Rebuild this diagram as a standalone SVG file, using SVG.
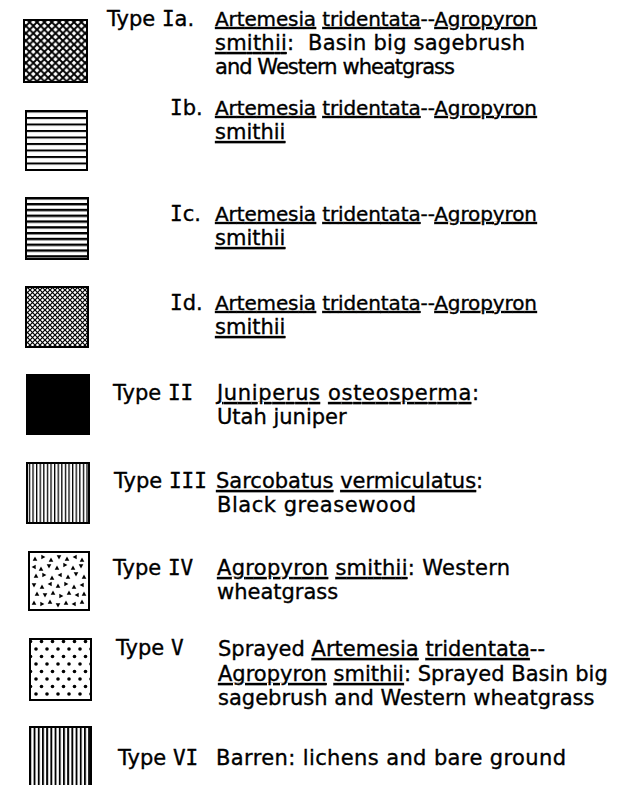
<svg xmlns="http://www.w3.org/2000/svg" xmlns:xlink="http://www.w3.org/1999/xlink" width="622" height="785" viewBox="0 0 622 785">
<defs>
<style>
text{font-family:"DejaVu Sans","Liberation Sans",sans-serif;font-size:21px;fill:#000;stroke:#000;stroke-width:0.35px}
text.sm{font-size:20px}
.rn{font-family:"DejaVu Sans Mono","Liberation Mono",monospace}
.u{text-decoration:underline;text-decoration-thickness:1.6px}
.pre{white-space:pre}
.box{stroke:#000;stroke-width:2}
</style>
<pattern id="xh" width="7.4" height="7.4" patternUnits="userSpaceOnUse"><rect width="7.4" height="7.4" fill="#fff"/><path d="M-1,-1L8.4,8.4M-1,8.4L8.4,-1" stroke="#000" stroke-width="1.9"/></pattern>
<pattern id="xhf" width="5" height="5" patternUnits="userSpaceOnUse"><rect width="5" height="5" fill="#fff"/><path d="M-1,-1L6,6M-1,6L6,-1" stroke="#000" stroke-width="1.2"/></pattern>
<pattern id="hz1" width="10" height="6.5" patternUnits="userSpaceOnUse"><rect width="10" height="6.5" fill="#fff"/><rect y="0" width="10" height="2" fill="#000"/></pattern>
<pattern id="hz2" width="10" height="5.8" patternUnits="userSpaceOnUse"><rect width="10" height="5.8" fill="#fff"/><rect y="0" width="10" height="2.4" fill="#000"/></pattern>
<pattern id="vt1" width="3.6" height="10" patternUnits="userSpaceOnUse"><rect width="3.6" height="10" fill="#fff"/><rect x="0" width="1.3" height="10" fill="#000"/></pattern>
<pattern id="vt2" width="4.2" height="10" patternUnits="userSpaceOnUse"><rect width="4.2" height="10" fill="#fff"/><rect x="0" width="1.9" height="10" fill="#000"/></pattern>
<pattern id="dots" width="11" height="15" patternUnits="userSpaceOnUse"><rect width="11" height="15" fill="#fff"/><circle cx="3" cy="4" r="1.8" fill="#000"/><circle cx="8.5" cy="11.5" r="1.8" fill="#000"/></pattern>
<path id="tri" d="M0,-2.4L2.3,1.7L-2.3,1.7Z" fill="#000"/>
</defs>
<rect width="622" height="785" fill="#fff"/>

<g id="type-Ia">
<rect class="box" x="24" y="20" width="63" height="62" fill="url(#xh)"/>
<text x="107" y="26">Type <tspan class="rn">I</tspan>a.</text>
<text class="sm" x="215" y="26" textLength="322" lengthAdjust="spacing"><tspan class="u">Artemesia</tspan> <tspan class="u">tridentata</tspan>--<tspan class="u">Agropyron</tspan></text>
<text class="pre" x="215" y="50" textLength="310" lengthAdjust="spacing"><tspan class="u">smithii</tspan>:  Basin big sagebrush</text>
<text x="215" y="74" textLength="240" lengthAdjust="spacing">and Western wheatgrass</text>
</g>

<g id="type-Ib">
<rect class="box" x="26" y="111" width="61" height="59" fill="url(#hz1)"/>
<text x="170" y="115"><tspan class="rn">I</tspan>b.</text>
<text class="sm" x="215" y="115" textLength="322" lengthAdjust="spacing"><tspan class="u">Artemesia</tspan> <tspan class="u">tridentata</tspan>--<tspan class="u">Agropyron</tspan></text>
<text x="215" y="139"><tspan class="u">smithii</tspan></text>
</g>

<g id="type-Ic">
<rect class="box" x="26" y="198" width="62" height="61" fill="url(#hz2)"/>
<text x="170" y="221"><tspan class="rn">I</tspan>c.</text>
<text class="sm" x="215" y="221" textLength="322" lengthAdjust="spacing"><tspan class="u">Artemesia</tspan> <tspan class="u">tridentata</tspan>--<tspan class="u">Agropyron</tspan></text>
<text x="215" y="245"><tspan class="u">smithii</tspan></text>
</g>

<g id="type-Id">
<rect class="box" x="26" y="287" width="62" height="60" fill="url(#xhf)"/>
<text x="170" y="310"><tspan class="rn">I</tspan>d.</text>
<text class="sm" x="215" y="310" textLength="322" lengthAdjust="spacing"><tspan class="u">Artemesia</tspan> <tspan class="u">tridentata</tspan>--<tspan class="u">Agropyron</tspan></text>
<text x="215" y="334"><tspan class="u">smithii</tspan></text>
</g>

<g id="type-II">
<rect class="box" x="27" y="375" width="62" height="59" fill="#000"/>
<text x="113" y="400">Type <tspan class="rn">II</tspan></text>
<text x="217" y="400" textLength="262" lengthAdjust="spacing"><tspan class="u">Juniperus</tspan> <tspan class="u">osteosperma</tspan>:</text>
<text x="217" y="424">Utah juniper</text>
</g>

<g id="type-III">
<rect class="box" x="27" y="463" width="62" height="60" fill="url(#vt1)"/>
<text x="114" y="488">Type <tspan class="rn">III</tspan></text>
<text x="216" y="488"><tspan class="u">Sarcobatus</tspan> <tspan class="u">vermiculatus</tspan>:</text>
<text x="217" y="512" textLength="199" lengthAdjust="spacing">Black greasewood</text>
</g>

<g id="type-IV">
<rect class="box" x="29" y="552" width="60" height="58" fill="#fff"/>
<g transform="translate(29,552)">
<use xlink:href="#tri" x="6" y="7"/><use xlink:href="#tri" x="14" y="5" transform="rotate(90 14 5)"/><use xlink:href="#tri" x="22" y="8"/><use xlink:href="#tri" x="30" y="5" transform="rotate(180 30 5)"/><use xlink:href="#tri" x="38" y="7"/><use xlink:href="#tri" x="46" y="5" transform="rotate(270 46 5)"/><use xlink:href="#tri" x="53" y="8"/>
<use xlink:href="#tri" x="5" y="15" transform="rotate(270 5 15)"/><use xlink:href="#tri" x="12" y="17"/><use xlink:href="#tri" x="20" y="14" transform="rotate(180 20 14)"/><use xlink:href="#tri" x="28" y="16"/><use xlink:href="#tri" x="36" y="13" transform="rotate(90 36 13)"/><use xlink:href="#tri" x="44" y="16"/><use xlink:href="#tri" x="52" y="14" transform="rotate(180 52 14)"/>
<use xlink:href="#tri" x="7" y="24"/><use xlink:href="#tri" x="15" y="23" transform="rotate(90 15 23)"/><use xlink:href="#tri" x="23" y="26"/><use xlink:href="#tri" x="31" y="23" transform="rotate(270 31 23)"/><use xlink:href="#tri" x="39" y="25"/><use xlink:href="#tri" x="47" y="22" transform="rotate(180 47 22)"/><use xlink:href="#tri" x="55" y="25"/>
<use xlink:href="#tri" x="5" y="33" transform="rotate(180 5 33)"/><use xlink:href="#tri" x="13" y="35"/><use xlink:href="#tri" x="21" y="32" transform="rotate(270 21 32)"/><use xlink:href="#tri" x="29" y="34"/><use xlink:href="#tri" x="37" y="32" transform="rotate(90 37 32)"/><use xlink:href="#tri" x="45" y="35"/><use xlink:href="#tri" x="53" y="33" transform="rotate(270 53 33)"/>
<use xlink:href="#tri" x="8" y="42"/><use xlink:href="#tri" x="16" y="43" transform="rotate(180 16 43)"/><use xlink:href="#tri" x="24" y="41"/><use xlink:href="#tri" x="32" y="44" transform="rotate(90 32 44)"/><use xlink:href="#tri" x="40" y="41"/><use xlink:href="#tri" x="48" y="43" transform="rotate(270 48 43)"/><use xlink:href="#tri" x="55" y="42"/>
<use xlink:href="#tri" x="5" y="51"/><use xlink:href="#tri" x="13" y="52" transform="rotate(90 13 52)"/><use xlink:href="#tri" x="21" y="50"/><use xlink:href="#tri" x="29" y="53" transform="rotate(180 29 53)"/><use xlink:href="#tri" x="37" y="51"/><use xlink:href="#tri" x="45" y="52" transform="rotate(270 45 52)"/><use xlink:href="#tri" x="53" y="50"/>
</g>
<text x="113" y="575">Type <tspan class="rn">IV</tspan></text>
<text x="217" y="575" textLength="293" lengthAdjust="spacing"><tspan class="u">Agropyron</tspan> <tspan class="u">smithii</tspan>: Western</text>
<text x="217" y="599">wheatgrass</text>
</g>

<g id="type-V">
<rect class="box" x="30" y="639" width="61" height="61" fill="url(#dots)"/>
<text x="116" y="655">Type <tspan class="rn">V</tspan></text>
<text x="218" y="656">Sprayed <tspan class="u">Artemesia</tspan> <tspan class="u">tridentata</tspan>--</text>
<text x="218" y="681"><tspan class="u">Agropyron</tspan> <tspan class="u">smithii</tspan>: Sprayed Basin big</text>
<text x="218" y="705">sagebrush and Western wheatgrass</text>
</g>

<g id="type-VI">
<rect class="box" x="30" y="727" width="61" height="62" fill="url(#vt2)"/>
<text x="118" y="765">Type <tspan class="rn">VI</tspan></text>
<text x="216" y="765" textLength="350" lengthAdjust="spacing">Barren: lichens and bare ground</text>
</g>

<g id="connectors"/>
</svg>
